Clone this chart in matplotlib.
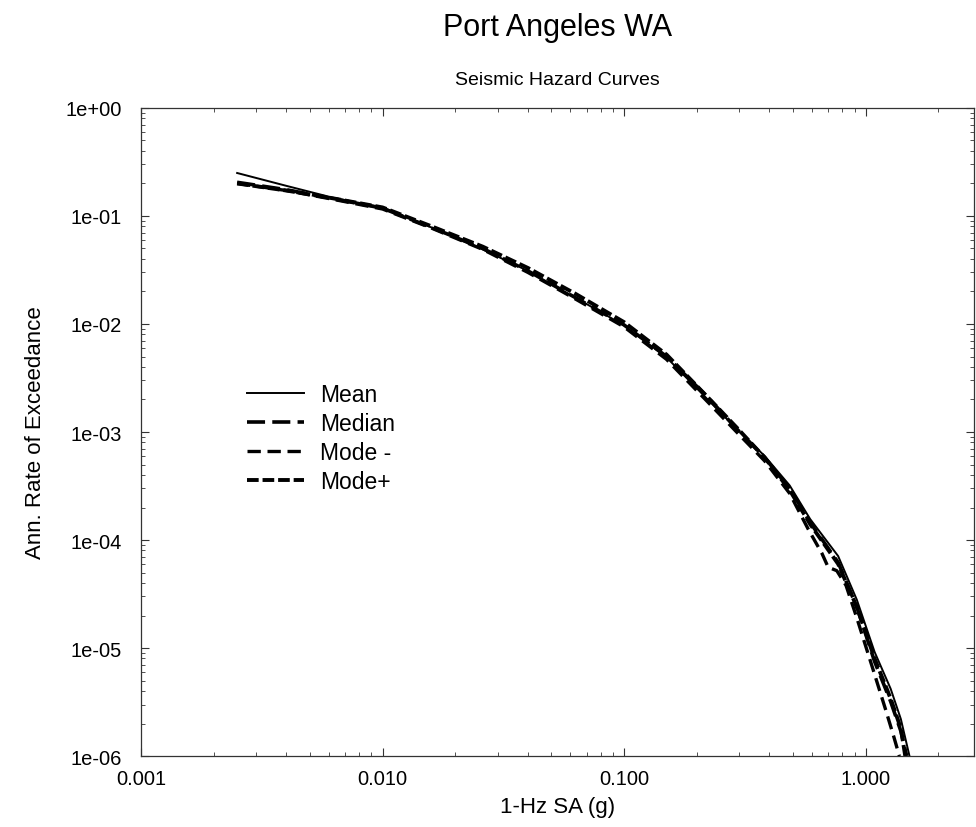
import numpy as np
import matplotlib.pyplot as plt
from matplotlib.ticker import FixedLocator, FuncFormatter, LogLocator, NullFormatter

plt.rcParams['font.family'] = ['Liberation Sans', 'DejaVu Sans']

# hazard curves
sa_mean = [0.0025, 0.004, 0.0062, 0.01, 0.016, 0.026, 0.04, 0.063, 0.1, 0.15,
           0.222, 0.295, 0.382, 0.485, 0.59, 0.77, 0.92, 1.09, 1.27, 1.40, 1.52]
rate_mean = [0.25, 0.19, 0.148, 0.12, 0.078, 0.049, 0.031, 0.0175, 0.0097, 0.0049,
             0.0020, 1.05e-3, 6.0e-4, 3.2e-4, 1.56e-4, 7.1e-5, 2.8e-5, 9.2e-6, 4.2e-6, 2.2e-6, 1.0e-6]

sa_median = [0.0025, 0.004, 0.0062, 0.01, 0.016, 0.026, 0.04, 0.063, 0.1, 0.15,
             0.222, 0.295, 0.382, 0.485, 0.59, 0.77, 0.92, 1.09, 1.27, 1.40, 1.48]
rate_median = [0.205, 0.175, 0.145, 0.118, 0.078, 0.050, 0.031, 0.0175, 0.0098, 0.0050,
               0.0021, 1.05e-3, 5.8e-4, 3.0e-4, 1.45e-4, 6.2e-5, 2.4e-5, 7.5e-6, 3.2e-6, 1.7e-6, 1.0e-6]

sa_mode_minus = [0.0025, 0.004, 0.0062, 0.01, 0.016, 0.026, 0.04, 0.063, 0.1, 0.15,
                 0.222, 0.295, 0.382, 0.485, 0.58, 0.66, 0.70, 0.76, 0.83, 0.92, 1.07, 1.21, 1.31, 1.38]
rate_mode_minus = [0.20, 0.172, 0.143, 0.116, 0.077, 0.049, 0.030, 0.017, 0.0094, 0.0047,
                   0.0019, 9.8e-4, 5.4e-4, 2.7e-4, 1.25e-4, 7.5e-5, 5.6e-5, 5.2e-5, 3.8e-5, 1.9e-5, 6.5e-6, 2.7e-6, 1.5e-6, 1.0e-6]

sa_mode_plus = [0.0025, 0.004, 0.0062, 0.01, 0.016, 0.026, 0.04, 0.063, 0.1, 0.15,
                0.222, 0.295, 0.382, 0.485, 0.59, 0.77, 0.92, 1.09, 1.27, 1.40, 1.46]
rate_mode_plus = [0.20, 0.172, 0.146, 0.12, 0.080, 0.052, 0.033, 0.019, 0.0104, 0.0052,
                  0.0021, 1.08e-3, 5.8e-4, 2.9e-4, 1.4e-4, 6.0e-5, 2.4e-5, 8.0e-6, 3.4e-6, 1.8e-6, 1.0e-6]

x_ticks = [0.001, 0.01, 0.1, 1.0]
y_ticks = [1e0, 1e-1, 1e-2, 1e-3, 1e-4, 1e-5, 1e-6]

fig = plt.figure(figsize=(9.76, 8.28), dpi=100)
ax = fig.add_axes([0.1445, 0.0857, 0.853, 0.7827])

ax.plot(sa_mean, rate_mean, color='black', lw=1.4, label='Mean')
ax.plot(sa_median, rate_median, color='black', lw=2.6, ls=(0, (5, 2)), label='Median')
ax.plot(sa_mode_minus, rate_mode_minus, color='black', lw=2.4, ls=(0, (4, 2)), label='Mode -')
ax.plot(sa_mode_plus, rate_mode_plus, color='black', lw=2.8, ls=(0, (3, 1)), label='Mode+')

ax.set_xscale('log')
ax.set_yscale('log')
ax.set_xlim(0.001, 2.8)
ax.set_ylim(1e-6, 1.0)

ax.xaxis.set_major_locator(FixedLocator(x_ticks))
ax.xaxis.set_major_formatter(FuncFormatter(lambda v, p: '%.3f' % v))
ax.yaxis.set_major_locator(FixedLocator(y_ticks))
ax.yaxis.set_major_formatter(FuncFormatter(lambda v, p: '%.0e' % v))
ax.xaxis.set_minor_locator(LogLocator(base=10, subs=np.arange(2, 10)))
ax.yaxis.set_minor_locator(LogLocator(base=10, subs=np.arange(2, 10)))
ax.xaxis.set_minor_formatter(NullFormatter())
ax.yaxis.set_minor_formatter(NullFormatter())

ax.tick_params(which='both', direction='in', top=True, right=True, colors='#333333')
ax.tick_params(which='major', length=6, width=0.8, labelsize=14.5, labelcolor='black')
ax.tick_params(axis='x', which='major', pad=9)
ax.tick_params(axis='y', which='major', pad=14)
ax.tick_params(which='minor', length=3, width=0.6)
for s in ax.spines.values():
    s.set_linestyle((0, (1, 1)))
    s.set_linewidth(0.9)
    s.set_color('#333333')

ax.set_xlabel('1-Hz SA (g)', fontsize=16, labelpad=6)
ax.set_ylabel('Ann. Rate of Exceedance', fontsize=16, labelpad=14)

fig.text(0.571, 0.966, 'Port Angeles WA', ha='center', va='center', fontsize=22)
fig.text(0.571, 0.903, 'Seismic Hazard Curves', ha='center', va='center', fontsize=14)

ax.legend(loc='upper left', bbox_to_anchor=(0.127, 0.575), frameon=False, fontsize=16.5,
          handlelength=2.5, handletextpad=0.7, labelspacing=0.25, borderpad=0, borderaxespad=0)

fig.savefig('out.png', dpi=100)
